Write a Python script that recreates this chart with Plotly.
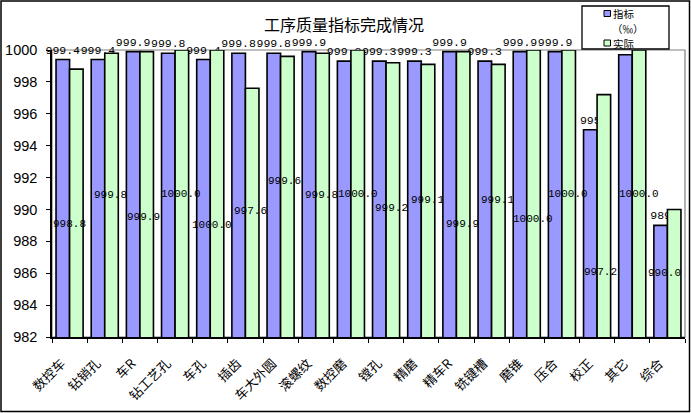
import plotly.graph_objects as go

# ── Dados ────────────────────────────────────────────────────────────────────

CATEGORIAS = [
    "数控车", "钻销孔", "车R", "钻工艺孔", "车孔", "插齿", "车大外圆", "滚螺纹",
    "数控磨", "镗孔", "精磨", "精车R", "铣键槽", "磨锥", "压合", "校正", "其它", "综合",
]
ZHIBIAO = [999.4, 999.4, 999.9, 999.8, 999.4, 999.8, 999.8, 999.9, 999.3,
           999.3, 999.3, 999.9, 999.3, 999.9, 999.9, 995, 999.7, 989]
SHIJI = [998.8, 999.8, 999.9, 1000.0, 1000.0, 997.6, 999.6, 999.8, 1000.0,
         999.2, 999.1, 999.9, 999.1, 1000.0, 1000.0, 997.2, 1000.0, 990.0]
Y_TICKS = [982, 984, 986, 988, 990, 992, 994, 996, 998, 1000]

# onde ficaram os rótulos do "实际": altura (unidades do eixo) e deslocamento em px
ROTULO_Y_SHIJI = [989.1, 990.9, 989.5, 991.0, 989.0, 989.9, 991.8, 990.9, 991.0,
                  990.1, 990.6, 989.1, 990.6, 989.4, 991.0, 986.1, 991.0, 986.0]
ROTULO_DX_SHIJI = [0, 6, 3.5, 6, 1.3, 5.4, 4, 6, 7.5,
                   5.6, 6.4, 6, 6.3, 5.8, 6.4, 3.7, 6.9, -2.7]

# ── Layout ───────────────────────────────────────────────────────────────────

W, H = 691, 413
M_L, M_R, M_T, M_B = 52, 6, 50, 76
PW, PH = W - M_L - M_R, H - M_T - M_B

AZUL = "#9999FF"
VERDE = "#CCFFCC"
FONTE_CJK = "Noto Sans CJK SC"
FONTE_NUM = "Liberation Mono"


def px_x(px):
    return (px - M_L) / PW


def px_y(py):
    return 1 - (py - M_T) / PH


def fmt(v):
    return f"{v:.0f}" if float(v).is_integer() else f"{v:.1f}"


texto_azul = [fmt(v) for v in ZHIBIAO]
texto_azul[CATEGORIAS.index("其它")] = ""  # fica escondido atrás da legenda

fig = go.Figure()

fig.add_trace(go.Bar(
    x=CATEGORIAS, y=ZHIBIAO, name="指标",
    marker=dict(color=AZUL, line=dict(color="black", width=1.6)),
    text=texto_azul, textposition="outside", textangle=0,
    constraintext="none", cliponaxis=False,
    textfont=dict(family=FONTE_NUM, size=11.5, color="black"),
))
fig.add_trace(go.Bar(
    x=CATEGORIAS, y=SHIJI, name="实际",
    marker=dict(color=VERDE, line=dict(color="black", width=1.6)),
    cliponaxis=False,
))

for cat, v, yl, dx in zip(CATEGORIAS, SHIJI, ROTULO_Y_SHIJI, ROTULO_DX_SHIJI):
    fig.add_annotation(
        x=cat, y=yl, text=f"{v:.1f}", showarrow=False, xshift=dx,
        font=dict(family=FONTE_NUM, size=11, color="black"),
    )

# moldura cinza da área de plotagem
fig.add_shape(type="rect", xref="paper", yref="paper", x0=0, x1=1, y0=0, y1=1,
              line=dict(color="#808080", width=1.2), layer="below")
# moldura externa do gráfico
fig.add_shape(type="rect", xref="paper", yref="paper",
              x0=px_x(1), x1=px_x(689.5), y0=px_y(411.5), y1=px_y(1),
              line=dict(color="black", width=1.5))

# ── Legenda desenhada à mão (caixa estreita como no original) ────────────────

fig.add_shape(type="rect", xref="paper", yref="paper",
              x0=px_x(582), x1=px_x(669), y0=px_y(49), y1=px_y(6),
              line=dict(color="black", width=1.3), fillcolor="white")
for cor, y0, y1 in [(AZUL, 16.5, 10.5), (VERDE, 46, 40)]:
    fig.add_shape(type="rect", xref="paper", yref="paper",
                  x0=px_x(604), x1=px_x(610.5), y0=px_y(y0), y1=px_y(y1),
                  line=dict(color="black", width=1), fillcolor=cor)
for txt, x, y in [("指标", 612, 13.5), ("（‰）", 611, 28.5), ("实际", 612, 43.5)]:
    fig.add_annotation(xref="paper", yref="paper", x=px_x(x), y=px_y(y),
                       text=txt, showarrow=False, xanchor="left", yanchor="middle",
                       borderpad=0,
                       font=dict(family=FONTE_CJK, size=10.5, color="black"))

fig.update_layout(
    width=W, height=H,
    template="none",
    paper_bgcolor="white", plot_bgcolor="white",
    margin=dict(l=M_L, r=M_R, t=M_T, b=M_B, autoexpand=False),
    barmode="group", bargap=0.23, bargroupgap=0.0,
    title=dict(text="工序质量指标完成情况", x=344 / W,
               xanchor="center", y=1 - 25 / H, yanchor="middle",
               font=dict(family=FONTE_CJK, size=16, color="black")),
    font=dict(family=FONTE_CJK, color="black"),
    showlegend=False,
    xaxis=dict(
        type="category", range=[-0.5, len(CATEGORIAS) - 0.5], automargin=False,
        tickangle=-45,
        showline=True, linecolor="black", linewidth=1.5,
        ticks="outside", tickson="boundaries", ticklen=4, tickcolor="black",
        ticklabelstandoff=12, ticklabelshift=-8,
        showgrid=False, zeroline=False,
        tickfont=dict(family=FONTE_CJK, size=13, color="black"),
    ),
    yaxis=dict(
        range=[982, 1000], tickvals=Y_TICKS, automargin=False,
        showline=True, linecolor="black", linewidth=1.5,
        ticks="outside", ticklen=4, tickcolor="black", ticklabelstandoff=6,
        showgrid=False, zeroline=False,
        tickfont=dict(family="Liberation Sans", size=14.5, color="black"),
    ),
)

fig.write_html("out.html", config={"displayModeBar": False},
               post_script="document.body.style.margin='0';")
